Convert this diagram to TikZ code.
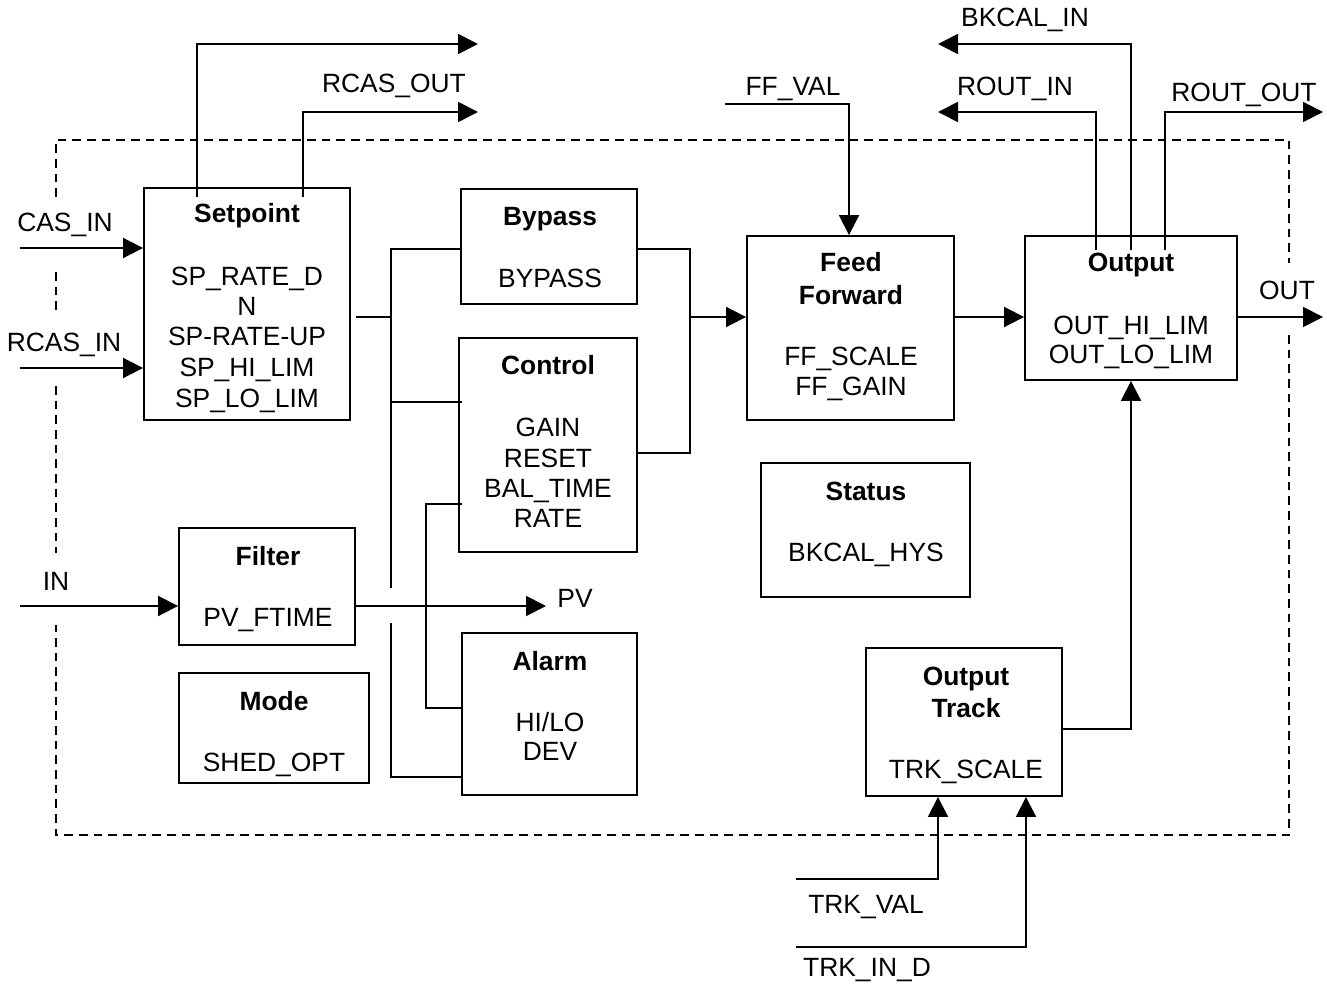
\documentclass[tikz,border=0pt]{standalone}
\usepackage{fontspec}
\setmainfont{Liberation Sans}
\usetikzlibrary{arrows.meta,fit}
\begin{document}
\begin{tikzpicture}[x=0.75pt,y=-0.75pt,
  blk/.style={draw, line width=1.4pt, inner sep=0pt},
  wire/.style={line width=1.4pt},
  arr/.style={wire, -{Triangle[length=15pt,width=15pt]}},
  bnd/.style={line width=1.3pt, dash pattern=on 6.5pt off 4.5pt},
  txt/.style={anchor=base, inner sep=0pt, font=\fontsize{19.8}{23}\selectfont},
  ttl/.style={anchor=base, inner sep=0pt, font=\fontsize{19.8}{23}\selectfont\bfseries}]
\useasboundingbox (0,0) rectangle (1327,984);

% dashed block boundary
\draw[bnd] (56,197) -- (56,140) -- (1289,140) -- (1289,263);
\draw[bnd] (1289,335) -- (1289,835) -- (56,835) -- (56,625);
\draw[bnd] (56,272) -- (56,315);
\draw[bnd] (56,386) -- (56,553);

% boxes
\node[blk, fit={(144,188)(350,420)}] (sp) {};
\node[blk, fit={(461,189)(637,304)}] (byp) {};
\node[blk, fit={(459,338)(637,552)}] (ctl) {};
\node[blk, fit={(462,633)(637,795)}] (alm) {};
\node[blk, fit={(179,528)(355,645)}] (flt) {};
\node[blk, fit={(179,673)(369,783)}] (mode) {};
\node[blk, fit={(747,236)(954,420)}] (ff) {};
\node[blk, fit={(1025,236)(1237,380)}] (out) {};
\node[blk, fit={(761,463)(970,597)}] (st) {};
\node[blk, fit={(866,648)(1062,796)}] (trk) {};

% box texts
\node[ttl] (spt) at (247,223) {Setpoint};
\node[txt] (sp1t) at (247,286) {SP\_RATE\_D};
\node[txt] (sp2t) at (247,315) {N};
\node[txt] (sp3t) at (247,345) {SP-RATE-UP};
\node[txt] (sp4t) at (247,376) {SP\_HI\_LIM};
\node[txt] (sp5t) at (247,407) {SP\_LO\_LIM};

\node[ttl] (bypt) at (550,226) {Bypass};
\node[txt] (byp1t) at (550,287) {BYPASS};

\node[ttl] (ctlt) at (548,374) {Control};
\node[txt] (ctl1t) at (548,436) {GAIN};
\node[txt] (ctl2t) at (548,467) {RESET};
\node[txt] (ctl3t) at (548,497) {BAL\_TIME};
\node[txt] (ctl4t) at (548,527) {RATE};

\node[ttl] (almt) at (550,670) {Alarm};
\node[txt] (alm1t) at (550,731) {HI/LO};
\node[txt] (alm2t) at (550,760) {DEV};

\node[ttl] (fltt) at (268,565) {Filter};
\node[txt] (flt1t) at (268,626) {PV\_FTIME};

\node[ttl] (modet) at (274,710) {Mode};
\node[txt] (mode1t) at (274,771) {SHED\_OPT};

\node[ttl] (fft1) at (851,272) {Feed};
\node[ttl] (fft2) at (851,304) {Forward};
\node[txt] (ff1t) at (851,365) {FF\_SCALE};
\node[txt] (ff2t) at (851,395) {FF\_GAIN};

\node[ttl] (outt) at (1131,272) {Output};
\node[txt] (out1t) at (1131,334) {OUT\_HI\_LIM};
\node[txt] (out2t) at (1131,363) {OUT\_LO\_LIM};

\node[ttl] (stt) at (866,500) {Status};
\node[txt] (st1t) at (866,561) {BKCAL\_HYS};

\node[ttl] (trkt1) at (966,685) {Output};
\node[ttl] (trkt2) at (966,717) {Track};
\node[txt] (trk1t) at (966,778) {TRK\_SCALE};

% free ends
\coordinate (casin) at (20,248);
\coordinate (rcasin) at (20,368);
\coordinate (inp) at (20,606);
\coordinate (spo1) at (197,197);
\coordinate (spo2) at (303,197);
\coordinate (bkout) at (478,44);
\coordinate (rcasout) at (478,112);
\coordinate (pv) at (546,606);
\coordinate (ffval) at (725,104);
\coordinate (oo1) at (1096,250);
\coordinate (oo2) at (1131,250);
\coordinate (oo3) at (1165,250);
\coordinate (routin) at (938,112);
\coordinate (bkin) at (938,44);
\coordinate (routout) at (1323,112);
\coordinate (outend) at (1323,317);
\coordinate (trkval) at (796,879);
\coordinate (trkind) at (796,947);

% connectors
\draw[arr] (casin) -- (casin -| sp.west);
\draw[arr] (rcasin) -- (rcasin -| sp.west);
\draw[arr] (inp) -- (inp -| flt.west);
\draw[arr] (spo1) |- (bkout);
\draw[arr] (spo2) |- (rcasout);
\draw[wire] (356,317) -- (391,317);
\draw[wire] (byp.west |- 0,249) -- (391,249) -- (391,588);
\draw[wire] (391,623) -- (391,777) -- (alm.west |- 0,777);
\draw[wire] (391,402) -- (462,402);
\draw[wire] (462,504) -- (426,504) -- (426,708) -- (alm.west |- 0,708);
\draw[arr] (pv -| flt.east) -- (pv);
\draw[wire] (byp.east |- 0,249) -- (690,249) -- (690,453) -- (ctl.east |- 0,453);
\draw[arr] (690,317) -- (ff.west |- 0,317);
\draw[arr] (ff.east |- 0,317) -- (out.west |- 0,317);
\draw[arr] (outend -| out.east) -- (outend);
\draw[arr] (ffval) -| (849,0 |- ff.north);
\draw[arr] (oo1) |- (routin);
\draw[arr] (oo2) |- (bkin);
\draw[arr] (oo3) |- (routout);
\draw[arr] (trk.east |- 0,729) -| (out.south);
\draw[arr] (trkval) -| (trk.south -| 938,0);
\draw[arr] (trkind) -| (trk.south -| 1026,0);

% labels
\node[txt] (lcas) at (65,232) {CAS\_IN};
\node[txt] (lrcas) at (64,351) {RCAS\_IN};
\node[txt] (lin) at (56,590) {IN};
\node[txt] (lrcout) at (394,93) {RCAS\_OUT};
\node[txt] (lpv) at (575,607) {PV};
\node[txt] (lffval) at (793,96) {FF\_VAL};
\node[txt] (lbkin) at (1025,27) {BKCAL\_IN};
\node[txt] (lroutin) at (1015,96) {ROUT\_IN};
\node[txt] (lroutout) at (1244,102) {ROUT\_OUT};
\node[txt] (lout) at (1287,300) {OUT};
\node[txt] (ltrkval) at (866,913) {TRK\_VAL};
\node[txt] (ltrkind) at (867,976) {TRK\_IN\_D};
\end{tikzpicture}
\end{document}
